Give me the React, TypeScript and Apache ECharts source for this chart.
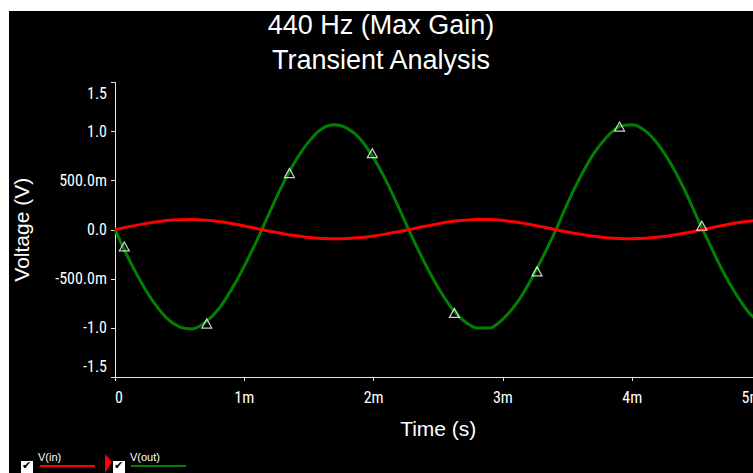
import React, { useEffect, useRef } from "react";
import * as echarts from "echarts";

// Time in milliseconds (axis labels show "m" suffix)
const timeMs = [
  0.0, 0.1, 0.2, 0.3, 0.4, 0.5, 0.6, 0.7, 0.8, 0.9,
  1.0, 1.1, 1.2, 1.3, 1.4, 1.5, 1.6, 1.7, 1.8, 1.9,
  2.0, 2.1, 2.2, 2.3, 2.4, 2.5, 2.6, 2.7, 2.8, 2.9,
  3.0, 3.1, 3.2, 3.3, 3.4, 3.5, 3.6, 3.7, 3.8, 3.9,
  4.0, 4.1, 4.2, 4.3, 4.4, 4.5, 4.6, 4.7, 4.8, 4.9, 5.0,
];

const vIn = [
  0.0, 0.029, 0.055, 0.077, 0.094, 0.103, 0.105, 0.098, 0.084, 0.064,
  0.039, 0.011, -0.016, -0.04, -0.061, -0.078, -0.088, -0.092, -0.089, -0.079,
  -0.063, -0.042, -0.018, 0.008, 0.036, 0.062, 0.083, 0.097, 0.104, 0.104,
  0.095, 0.079, 0.057, 0.031, 0.003, -0.023, -0.046, -0.066, -0.081, -0.09,
  -0.092, -0.087, -0.075, -0.058, -0.036, -0.011, 0.016, 0.043, 0.068, 0.087, 0.1,
];

const vOut = [
  0.0, -0.28, -0.53, -0.74, -0.9, -0.99, -1.01, -0.94, -0.81, -0.61,
  -0.37, -0.1, 0.19, 0.47, 0.71, 0.9, 1.03, 1.07, 1.03, 0.92,
  0.73, 0.49, 0.21, -0.08, -0.35, -0.59, -0.79, -0.93, -1.0, -1.0,
  -0.91, -0.76, -0.55, -0.3, -0.03, 0.27, 0.54, 0.77, 0.94, 1.05,
  1.07, 1.01, 0.87, 0.67, 0.42, 0.13, -0.15, -0.42, -0.65, -0.84, -0.96,
];

// Cursor/marker points on V(out)
const markerTimeMs = [0.072, 0.71, 1.349, 1.99, 2.625, 3.264, 3.902, 4.538];
const markerVolts = [-0.17, -0.956, 0.577, 0.78, -0.847, -0.424, 1.051, 0.041];

const yTickValues = [-1.5, -1.0, -0.5, 0, 0.5, 1.0, 1.5];
const yTickLabels = ["-1.5", "-1.0", "-500.0m", "0.0", "500.0m", "1.0", "1.5"];
const xTickLabels = ["0", "1m", "2m", "3m", "4m", "5m"];

const titleLines = ["440 Hz (Max Gain)", "Transient Analysis"];
const legendNames = ["V(in)", "V(out)"];

const NARROW = '"Liberation Sans Narrow", "Arial Narrow", "Roboto Condensed", "DejaVu Sans Condensed", Roboto, sans-serif';
const SANS = '"Liberation Sans", Arial, sans-serif';

export default function App() {
  const ref = useRef<HTMLDivElement>(null);

  useEffect(() => {
    if (!ref.current) return;
    const chart = echarts.init(ref.current, undefined, { renderer: "svg" });

    const inData = timeMs.map((t, i) => [t, vIn[i]]);
    const outData = timeMs.map((t, i) => [t, vOut[i]]);
    const markData = markerTimeMs.map((t, i) => [t, markerVolts[i]]);

    const axisColor = "#e6e6e6";
    const titleStyle = {
      color: "#ffffff",
      fontFamily: SANS,
      fontSize: 27,
      fontWeight: "normal",
      lineHeight: 28,
    };

    chart.setOption({
      animation: false,
      backgroundColor: "#000000",
      title: {
        text: titleLines[0],
        subtext: titleLines[1],
        left: "center",
        top: 0,
        padding: 0,
        itemGap: 7,
        textStyle: titleStyle,
        subtextStyle: titleStyle,
      },
      grid: {
        left: 106,
        right: -8.5,
        top: 71.5,
        bottom: 96,
        containLabel: false,
        outerBoundsMode: "none",
      },
      xAxis: {
        type: "value",
        min: 0,
        max: 5,
        interval: 1,
        name: "Time (s)",
        nameLocation: "middle",
        nameGap: 41,
        nameTextStyle: { color: "#ffffff", fontFamily: SANS, fontSize: 21 },
        axisLine: { show: true, onZero: false, lineStyle: { color: axisColor, width: 1 } },
        axisTick: { show: true, inside: false, length: 4, lineStyle: { color: axisColor } },
        axisLabel: {
          color: "#ffffff",
          fontFamily: NARROW,
          fontSize: 16,
          margin: 12,
          alignMinLabel: "left",
          alignMaxLabel: "right",
          formatter: (v: number) => xTickLabels[Math.round(v)] ?? "",
        },
        splitLine: { show: false },
      },
      yAxis: {
        type: "value",
        min: -1.5,
        max: 1.5,
        interval: 0.5,
        name: "Voltage (V)",
        nameLocation: "middle",
        nameRotate: 90,
        nameGap: 83,
        nameTextStyle: { color: "#ffffff", fontFamily: SANS, fontSize: 21 },
        axisLine: { show: true, onZero: false, lineStyle: { color: axisColor, width: 1 } },
        axisTick: { show: true, inside: false, length: 4, lineStyle: { color: axisColor } },
        axisLabel: {
          color: "#ffffff",
          fontFamily: NARROW,
          fontSize: 16,
          margin: 8,
          lineHeight: 22,
          verticalAlignMaxLabel: "top",
          verticalAlignMinLabel: "bottom",
          formatter: (v: number) => {
            const idx = yTickValues.findIndex((y) => Math.abs(y - v) < 1e-6);
            return idx >= 0 ? yTickLabels[idx] : "";
          },
        },
        splitLine: { show: false },
      },
      series: [
        {
          name: legendNames[1],
          type: "line",
          data: outData,
          showSymbol: false,
          smooth: 0.3,
          lineStyle: { color: "#008000", width: 3 },
          z: 2,
        },
        {
          name: legendNames[0],
          type: "line",
          data: inData,
          showSymbol: false,
          smooth: 0.3,
          lineStyle: { color: "#ff0000", width: 3 },
          z: 3,
        },
        {
          name: "markers",
          type: "scatter",
          data: markData,
          symbol: "triangle",
          symbolSize: [10, 9],
          itemStyle: { color: "rgba(0,0,0,0)", borderColor: "#ffffff", borderWidth: 1.2 },
          z: 4,
        },
      ],
      graphic: [
        // checkbox 1
        { type: "rect", shape: { x: 12, y: 450, width: 12, height: 12 }, style: { fill: "#ffffff" } },
        { type: "text", x: 13, y: 449, style: { text: "✔", fill: "#000000", font: "bold 11px DejaVu Sans" } },
        { type: "text", x: 29, y: 440, style: { text: legendNames[0], fill: "#ffffff", font: `11px ${SANS}` } },
        { type: "line", shape: { x1: 31, y1: 455, x2: 86, y2: 455 }, style: { stroke: "#ff0000", lineWidth: 2 } },
        // red arrow
        { type: "polygon", shape: { points: [[96, 443], [103, 451], [96, 462]] }, style: { fill: "#ff0000" } },
        // checkbox 2
        { type: "rect", shape: { x: 104, y: 450, width: 12, height: 12 }, style: { fill: "#ffffff" } },
        { type: "text", x: 105, y: 449, style: { text: "✔", fill: "#000000", font: "bold 11px DejaVu Sans" } },
        { type: "text", x: 121, y: 440, style: { text: legendNames[1], fill: "#ffffff", font: `11px ${SANS}` } },
        { type: "line", shape: { x1: 122, y1: 455, x2: 177, y2: 455 }, style: { stroke: "#008000", lineWidth: 2 } },
      ],
    });

    return () => chart.dispose();
  }, []);

  return (
    <div
      ref={ref}
      style={{ position: "fixed", left: 9, top: 11, width: 744, height: 462 }}
    />
  );
}
